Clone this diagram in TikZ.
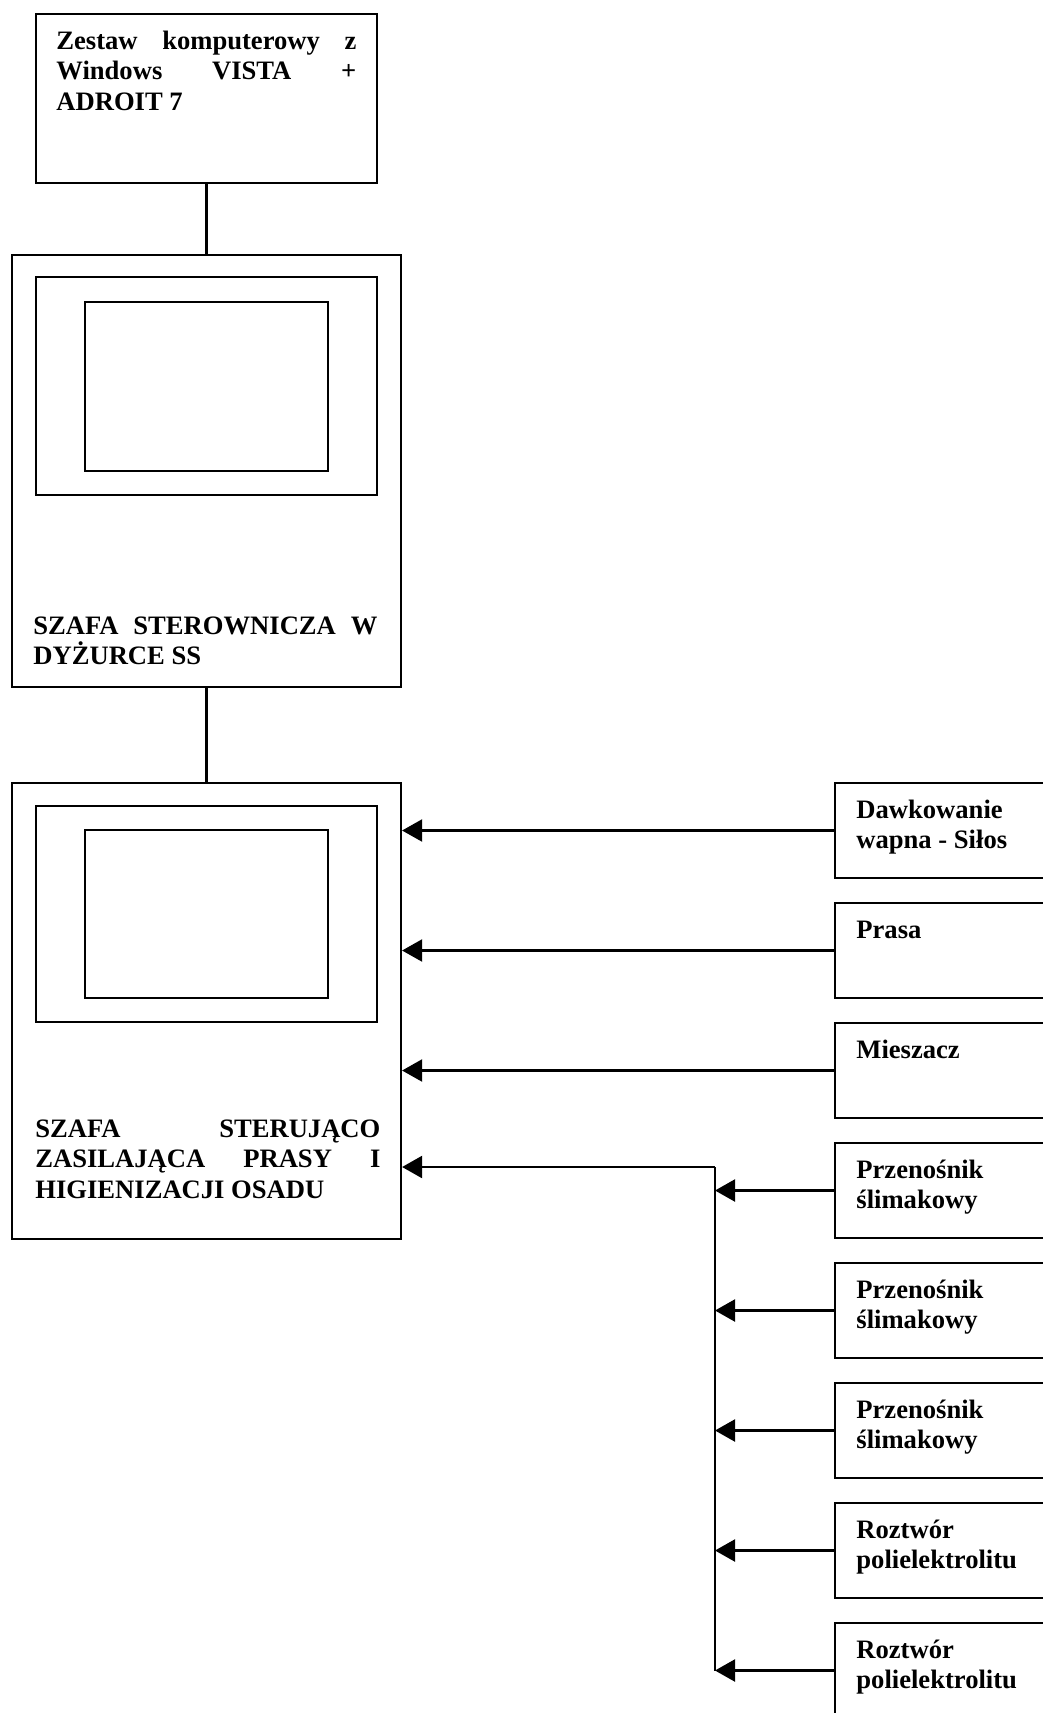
\documentclass[tikz,border=0pt]{standalone}
\usepackage{fontspec}
\setmainfont{Liberation Serif}
\usetikzlibrary{arrows.meta}
\begin{document}
\begin{tikzpicture}[x=0.5pt,y=-0.5pt,
  box/.style={draw, line width=1.1pt, rectangle, inner sep=0pt},
  conn/.style={line width=1.1pt},
  arr/.style={line width=1.1pt, -{Triangle[length=10pt,width=11pt]}},
  rbox/.style={box, minimum width=115pt, minimum height=47.5pt},
  txt/.style={inner sep=0pt, anchor=base west, align=left,
    font=\bfseries\fontsize{13.3}{15}\selectfont,
    execute at begin node={\spaceskip=0pt\xspaceskip=0pt\relax}},
  rtxt/.style={txt, text width=90pt}
]
\clip (0,0) rectangle (1043,1713);

% left column boxes
\node[box, minimum width=170.5pt, minimum height=84.5pt] (top) at (206.5,98.5) {};
\node[box, minimum width=194.5pt, minimum height=216pt] (ss) at (206.5,471) {};
\node[box, minimum width=170.5pt, minimum height=109pt] (ssframe) at (206.5,386) {};
\node[box, minimum width=121.5pt, minimum height=84.5pt] (ssscreen) at (206.5,386.5) {};
\node[box, minimum width=194.5pt, minimum height=228pt] (main) at (206.5,1011) {};
\node[box, minimum width=170.5pt, minimum height=108pt] (mainframe) at (206.5,914) {};
\node[box, minimum width=121.5pt, minimum height=84pt] (mainscreen) at (206.5,914) {};

% left column texts
\node[txt, text width=150pt, font=\bfseries\fontsize{13.3}{15.25}\selectfont] (toptxt) at (56,49)
  {\makebox[150pt][l]{Zestaw\hfill komputerowy\hfill z}\\\makebox[150pt][l]{Windows\hfill VISTA\hfill +}\\ADROIT 7};
\node[txt, text width=172pt, font=\bfseries\fontsize{13.3}{15.25}\selectfont] (sstxt) at (33,634)
  {\makebox[172pt][l]{SZAFA\hfill STEROWNICZA\hfill W}\\DYŻURCE SS};
\node[txt, text width=172.5pt, font=\bfseries\fontsize{13.3}{15.25}\selectfont] (maintxt) at (35,1137)
  {\makebox[172.5pt][l]{SZAFA\hfill STERUJĄCO}\\\makebox[172.5pt][l]{ZASILAJĄCA\hfill PRASY\hfill I}\\HIGIENIZACJI OSADU};

% right column boxes
\node[rbox] (r1) at (950,830.5) {};
\node[rbox] (r2) at (950,950.5) {};
\node[rbox] (r3) at (950,1070.5) {};
\node[rbox] (r4) at (950,1190.5) {};
\node[rbox] (r5) at (950,1310.5) {};
\node[rbox] (r6) at (950,1430.5) {};
\node[rbox] (r7) at (950,1550.5) {};
\node[rbox] (r8) at (950,1670.5) {};

\node[rtxt] (t1) at (856,818) {Dawkowanie\\wapna - Siłos};
\node[rtxt] (t2) at (856,938) {Prasa};
\node[rtxt] (t3) at (856,1058) {Mieszacz};
\node[rtxt] (t4) at (856,1178) {Przenośnik\\ślimakowy};
\node[rtxt] (t5) at (856,1298) {Przenośnik\\ślimakowy};
\node[rtxt] (t6) at (856,1418) {Przenośnik\\ślimakowy};
\node[rtxt] (t7) at (856,1538) {Roztwór\\polielektrolitu};
\node[rtxt] (t8) at (856,1658) {Roztwór\\polielektrolitu};

% connectors
\draw[conn] (top.south) -- (ss.north);
\draw[conn] (ss.south) -- (main.north);
\draw[arr] (r1.west) -- (main.east |- r1.west);
\draw[arr] (r2.west) -- (main.east |- r2.west);
\draw[arr] (r3.west) -- (main.east |- r3.west);

\coordinate (bus) at (715,1167);
\draw[conn] (bus) -- (bus |- r8.west);
\draw[arr] (bus) -- (main.east |- bus);
\foreach \r in {r4,r5,r6,r7,r8}
  \draw[arr] (\r.west) -- (\r.west -| bus);
\end{tikzpicture}
\end{document}
